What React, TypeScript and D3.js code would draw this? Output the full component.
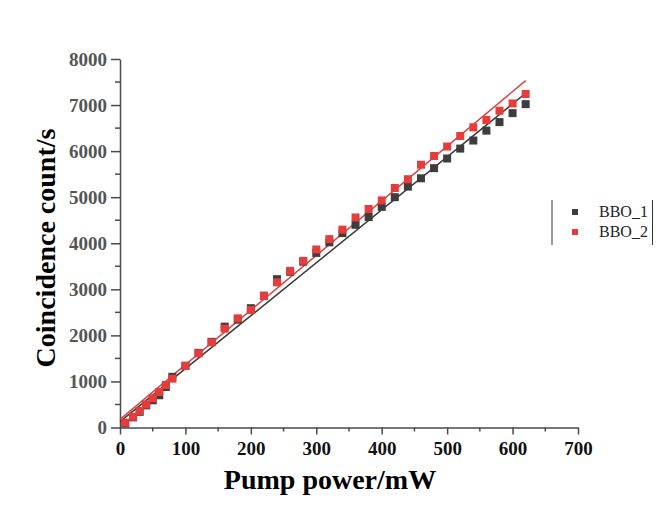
import React, { useEffect, useRef } from "react";
import * as d3 from "d3";

// pump power (mW) for each measured point
const power = [
  8, 20, 30, 40, 50, 60, 70, 80, 100, 120, 140, 160, 180, 200, 220, 240, 260,
  280, 300, 320, 340, 360, 380, 400, 420, 440, 460, 480, 500, 520, 540, 560,
  580, 600, 620,
];

const bbo1 = [
  90, 220, 340, 480, 590, 700, 880, 1100, 1340, 1620, 1860, 2190, 2340, 2590,
  2860, 3220, 3380, 3600, 3790, 4020, 4220, 4400, 4570, 4790, 5000, 5230, 5410,
  5630, 5840, 6055, 6230, 6445, 6630, 6825, 7020,
];

const bbo2 = [
  105, 235, 360, 500, 634, 770, 922, 1060, 1338, 1610, 1850, 2145, 2370, 2551,
  2860, 3152, 3400, 3618, 3865, 4090, 4295, 4560, 4744, 4930, 5200, 5390, 5705,
  5894, 6100, 6329, 6517, 6676, 6878, 7035, 7240,
];

// linear fit end points
const fitX = [0, 620];
const fit1 = [126, 7256];
const fit2 = [178, 7530];

const seriesNames = ["BBO_1", "BBO_2"];
const colors = ["#3d3d3d", "#e63c3c"];
const lineColors = ["#3a3a3a", "#d84444"];

const xTicks = [0, 100, 200, 300, 400, 500, 600, 700];
const yTicks = [0, 1000, 2000, 3000, 4000, 5000, 6000, 7000, 8000];

const W = 671;
const H = 513;
const FONT = "'Times New Roman', 'Liberation Serif', serif";

export default function App() {
  const svgRef = useRef<SVGSVGElement>(null);

  useEffect(() => {
    const svg = d3.select(svgRef.current);
    svg.selectAll("*").remove();
    svg.attr("width", W).attr("height", H);

    const x = d3.scaleLinear().domain([0, 700]).range([120, 578]);
    const y = d3.scaleLinear().domain([0, 8000]).range([427.5, 59]);

    // minor ticks
    const xMinor = d3.range(50, 700, 100);
    const yMinor = d3.range(500, 8000, 1000);

    const gx = svg.append("g").attr("transform", `translate(0, ${y(0)})`);
    gx.call(
      d3
        .axisBottom(x)
        .tickValues(xTicks)
        .tickFormat(d3.format("d"))
        .tickSizeInner(7)
        .tickSizeOuter(0)
        .tickPadding(7)
    );
    xMinor.forEach((v) => {
      gx.append("line")
        .attr("x1", x(v))
        .attr("x2", x(v))
        .attr("y1", 0)
        .attr("y2", 4)
        .attr("stroke", "#4a4a4a")
        .attr("stroke-width", 1.5);
    });

    const gy = svg.append("g").attr("transform", `translate(${x(0)}, 0)`);
    gy.call(
      d3
        .axisLeft(y)
        .tickValues(yTicks)
        .tickFormat(d3.format("d"))
        .tickSizeInner(9)
        .tickSizeOuter(0)
        .tickPadding(4)
    );
    yMinor.forEach((v) => {
      gy.append("line")
        .attr("x1", 0)
        .attr("x2", -5)
        .attr("y1", y(v))
        .attr("y2", y(v))
        .attr("stroke", "#4a4a4a")
        .attr("stroke-width", 1.5);
    });

    svg.selectAll(".domain").attr("stroke", "#4a4a4a").attr("stroke-width", 1.5);
    svg.selectAll(".tick line").attr("stroke", "#4a4a4a").attr("stroke-width", 1.5);
    svg
      .selectAll(".tick text")
      .attr("font-family", FONT)
      .attr("font-weight", "bold")
      .attr("font-size", 19);
    gx.selectAll(".tick text").attr("fill", "#111");
    gy.selectAll(".tick text").attr("fill", "#555");

    // fit lines
    const fits = [fit1, fit2];
    fits.forEach((f, k) => {
      const line = d3
        .line<number>()
        .x((_, i) => x(fitX[i]))
        .y((d) => y(d));
      svg
        .append("path")
        .attr("d", line(f))
        .attr("fill", "none")
        .attr("stroke", lineColors[k])
        .attr("stroke-width", 1.5);
    });

    // markers
    const s = 8;
    [bbo1, bbo2].forEach((vals, k) => {
      svg
        .append("g")
        .selectAll("rect")
        .data(vals)
        .enter()
        .append("rect")
        .attr("x", (_, i) => x(power[i]) - s / 2)
        .attr("y", (d) => y(d) - s / 2)
        .attr("width", s)
        .attr("height", s)
        .attr("fill", colors[k]);
    });

    // axis titles
    svg
      .append("text")
      .attr("x", 330)
      .attr("y", 489)
      .attr("text-anchor", "middle")
      .attr("font-family", FONT)
      .attr("font-weight", "bold")
      .attr("font-size", 28)
      .attr("fill", "#000")
      .text("Pump power/mW");

    svg
      .append("text")
      .attr("transform", `translate(55, 248) rotate(-90)`)
      .attr("text-anchor", "middle")
      .attr("font-family", FONT)
      .attr("font-weight", "bold")
      .attr("font-size", 28)
      .attr("fill", "#000")
      .text("Coincidence count/s");

    // legend
    const lg = svg.append("g");
    [552, 652.5].forEach((lx) => {
      lg.append("line")
        .attr("x1", lx)
        .attr("x2", lx)
        .attr("y1", 200)
        .attr("y2", 245)
        .attr("stroke", "#333")
        .attr("stroke-width", 1);
    });
    seriesNames.forEach((name, k) => {
      const cy = 212 + k * 20;
      lg.append("rect")
        .attr("x", 575 - 3)
        .attr("y", cy - 3)
        .attr("width", 6)
        .attr("height", 6)
        .attr("fill", colors[k]);
      lg.append("text")
        .attr("x", 599)
        .attr("y", cy + 5)
        .attr("font-family", FONT)
        .attr("font-size", 16)
        .attr("fill", "#222")
        .text(name);
    });
  }, []);

  return (
    <div style={{ position: "absolute", left: 0, top: 0 }}>
      <svg ref={svgRef} />
    </div>
  );
}
